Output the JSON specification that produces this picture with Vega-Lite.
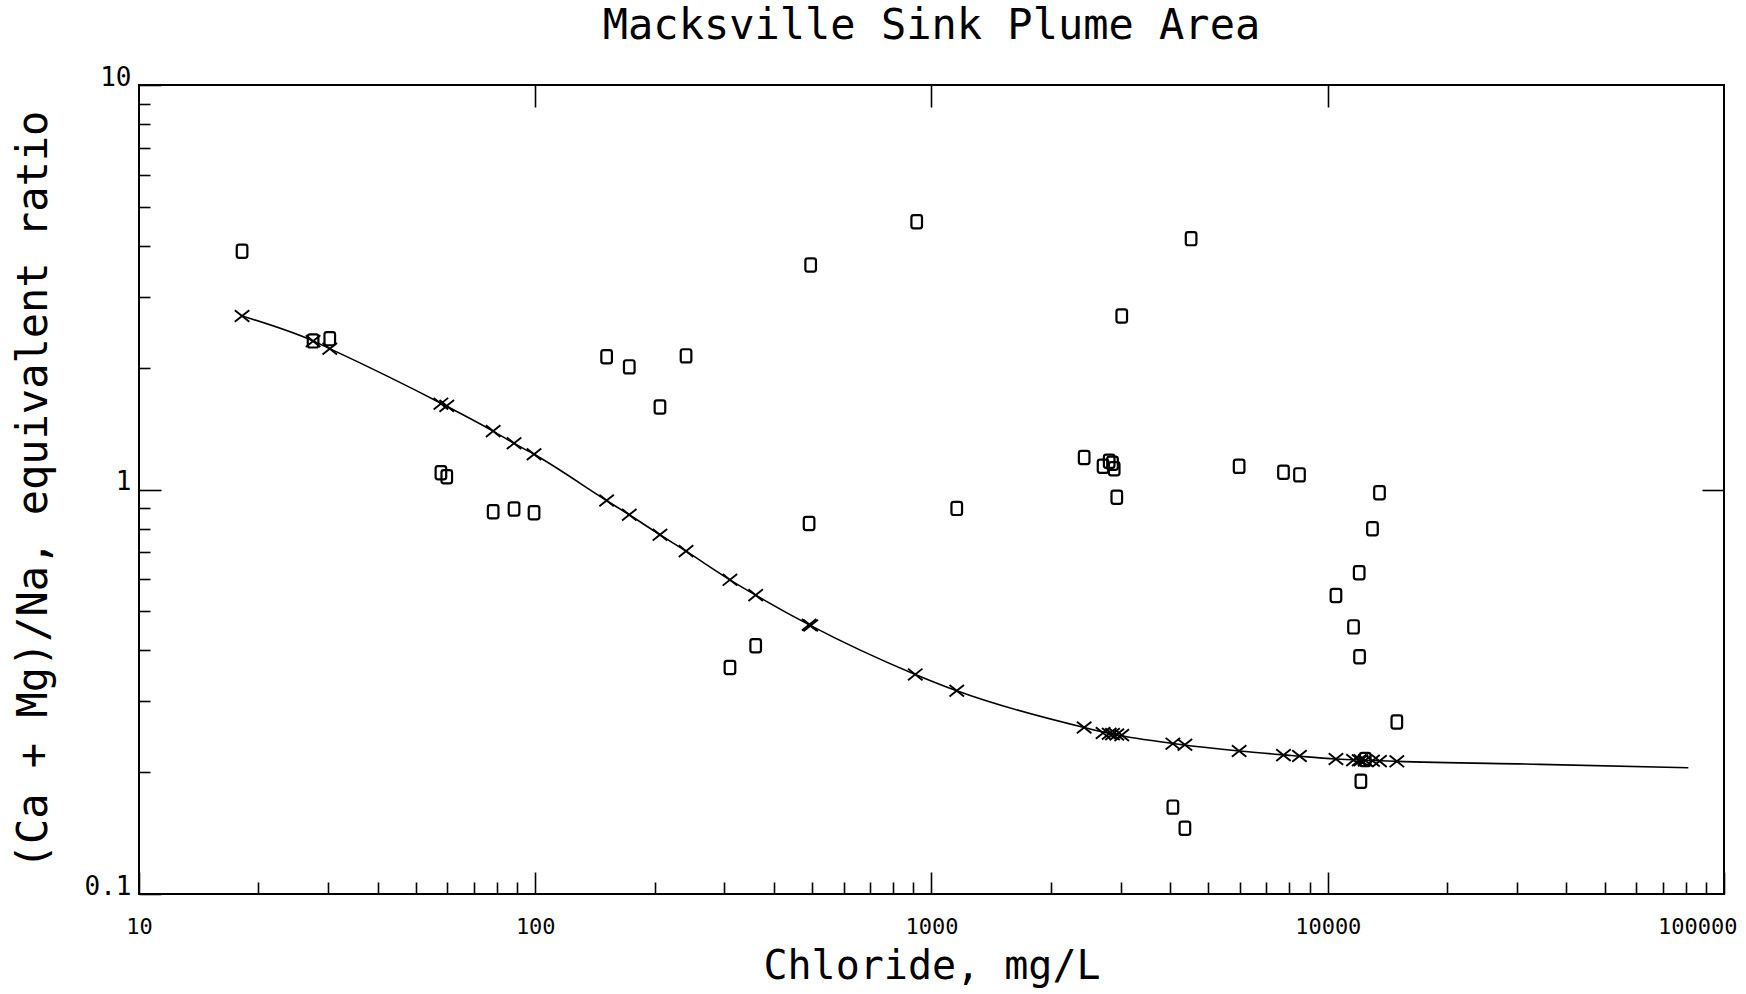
{
  "$schema": "https://vega.github.io/schema/vega-lite/v6.json",
  "width": 1585,
  "height": 809,
  "autosize": {"type": "none"},
  "padding": {"left": 139, "top": 85, "right": 22, "bottom": 100},
  "background": "white",
  "title": {"text": "Macksville Sink Plume Area", "anchor": "middle", "offset": 16, "font": "DejaVu Sans Mono", "fontSize": 42, "fontWeight": "normal", "color": "black"},
  "config": {
    "view": {"stroke": "black", "strokeWidth": 2},
    "axis": {"grid": false, "domain": false, "tickColor": "black", "tickWidth": 1.6, "labelColor": "black", "labelFont": "DejaVu Sans Mono", "labelFontSize": 22, "titleFont": "DejaVu Sans Mono", "titleFontSize": 42, "titleFontWeight": "normal", "titleColor": "black"}
  },
  "datasets": {
    "obs": [
      {"cl": 18.2, "ratio": 3.88}, {"cl": 27.5, "ratio": 2.33}, {"cl": 30.3, "ratio": 2.36},
      {"cl": 57.8, "ratio": 1.10}, {"cl": 59.8, "ratio": 1.075}, {"cl": 78.3, "ratio": 0.881},
      {"cl": 88.4, "ratio": 0.895}, {"cl": 99.3, "ratio": 0.876}, {"cl": 151.4, "ratio": 2.13},
      {"cl": 172.7, "ratio": 2.01}, {"cl": 206.4, "ratio": 1.60}, {"cl": 240.2, "ratio": 2.14},
      {"cl": 310, "ratio": 0.363}, {"cl": 360, "ratio": 0.411}, {"cl": 491, "ratio": 0.824},
      {"cl": 495.5, "ratio": 3.59}, {"cl": 917.6, "ratio": 4.59}, {"cl": 1158, "ratio": 0.898},
      {"cl": 2428, "ratio": 1.20}, {"cl": 2710, "ratio": 1.142}, {"cl": 2808, "ratio": 1.175},
      {"cl": 2863, "ratio": 1.161}, {"cl": 2891, "ratio": 1.125}, {"cl": 2935, "ratio": 0.957},
      {"cl": 3021, "ratio": 2.685}, {"cl": 4066, "ratio": 0.164}, {"cl": 4360, "ratio": 0.1454},
      {"cl": 4520, "ratio": 4.17}, {"cl": 5975, "ratio": 1.141}, {"cl": 7732, "ratio": 1.103},
      {"cl": 8485, "ratio": 1.087}, {"cl": 10488, "ratio": 0.547}, {"cl": 11616, "ratio": 0.4575},
      {"cl": 12005, "ratio": 0.6225}, {"cl": 12030, "ratio": 0.386}, {"cl": 12123, "ratio": 0.190},
      {"cl": 12432, "ratio": 0.215}, {"cl": 12968, "ratio": 0.800}, {"cl": 13507, "ratio": 0.982},
      {"cl": 14940, "ratio": 0.2663}
    ],
    "calc": [
      {"cl": 18.2, "ratio": 2.685}, {"cl": 27.5, "ratio": 2.327}, {"cl": 30.3, "ratio": 2.228},
      {"cl": 57.8, "ratio": 1.63}, {"cl": 59.8, "ratio": 1.61}, {"cl": 78.3, "ratio": 1.394},
      {"cl": 88.4, "ratio": 1.301}, {"cl": 99.3, "ratio": 1.222}, {"cl": 151.4, "ratio": 0.939},
      {"cl": 172.7, "ratio": 0.866}, {"cl": 206.4, "ratio": 0.773}, {"cl": 240.2, "ratio": 0.704},
      {"cl": 310, "ratio": 0.598}, {"cl": 360, "ratio": 0.548}, {"cl": 491, "ratio": 0.463},
      {"cl": 495.5, "ratio": 0.461}, {"cl": 910, "ratio": 0.349}, {"cl": 1158, "ratio": 0.318},
      {"cl": 2428, "ratio": 0.258}, {"cl": 2710, "ratio": 0.250}, {"cl": 2808, "ratio": 0.249},
      {"cl": 2863, "ratio": 0.2485}, {"cl": 2935, "ratio": 0.248}, {"cl": 3021, "ratio": 0.247},
      {"cl": 4066, "ratio": 0.2353}, {"cl": 4360, "ratio": 0.2339}, {"cl": 5975, "ratio": 0.2257},
      {"cl": 7732, "ratio": 0.2205}, {"cl": 8485, "ratio": 0.2193}, {"cl": 10488, "ratio": 0.2156},
      {"cl": 11616, "ratio": 0.2143}, {"cl": 12005, "ratio": 0.2142}, {"cl": 12123, "ratio": 0.2141},
      {"cl": 12432, "ratio": 0.214}, {"cl": 12968, "ratio": 0.2135}, {"cl": 13507, "ratio": 0.2131},
      {"cl": 14940, "ratio": 0.2128}
    ],
    "curve": [
      {"cl": 18.2, "ratio": 2.685}, {"cl": 27.5, "ratio": 2.33}, {"cl": 30.3, "ratio": 2.23},
      {"cl": 58.8, "ratio": 1.62}, {"cl": 78.3, "ratio": 1.394}, {"cl": 88.4, "ratio": 1.30},
      {"cl": 99.3, "ratio": 1.222}, {"cl": 151.4, "ratio": 0.939}, {"cl": 172.7, "ratio": 0.866},
      {"cl": 206.4, "ratio": 0.773}, {"cl": 240.2, "ratio": 0.704}, {"cl": 310, "ratio": 0.598},
      {"cl": 360, "ratio": 0.548}, {"cl": 493, "ratio": 0.462}, {"cl": 910, "ratio": 0.349},
      {"cl": 1158, "ratio": 0.318}, {"cl": 2428, "ratio": 0.258}, {"cl": 2860, "ratio": 0.2485},
      {"cl": 4200, "ratio": 0.2346}, {"cl": 5975, "ratio": 0.2257}, {"cl": 8100, "ratio": 0.220},
      {"cl": 10488, "ratio": 0.2156}, {"cl": 12400, "ratio": 0.2141}, {"cl": 14940, "ratio": 0.2128},
      {"cl": 34360, "ratio": 0.2092}, {"cl": 81283, "ratio": 0.2052}
    ]
  },
  "layer": [
    {
      "data": {"name": "curve"},
      "mark": {"type": "line", "color": "black", "strokeWidth": 1.6, "interpolate": "monotone"},
      "encoding": {
        "x": {"field": "cl", "type": "quantitative", "scale": {"type": "log", "domain": [10, 100000], "nice": false},
          "axis": {"orient": "bottom", "values": [10, 100, 1000, 10000, 100000], "format": "d", "tickSize": -22, "labelPadding": 44,
            "labelAlign": {"condition": {"test": "datum.value == 100000", "value": "right"}, "value": "center"},
            "labelOffset": {"condition": {"test": "datum.value == 100000", "value": 13}, "value": 0},
            "title": "Chloride, mg/L", "titleFontSize": 40, "titleBaseline": "middle", "titleY": 72}},
        "y": {"field": "ratio", "type": "quantitative", "scale": {"type": "log", "domain": [0.1, 10], "nice": false},
          "axis": {"orient": "left", "values": [0.1, 1, 10], "format": "~r", "tickSize": -22, "labelPadding": 30, "labelBaseline": "alphabetic", "labelFontSize": 26,
            "title": "(Ca + Mg)/Na, equivalent ratio", "titleBaseline": "middle", "titleX": -106}}
      }
    },
    {
      "data": {"name": "calc"},
      "mark": {"type": "point", "shape": "M-1,-0.8L1,0.8M-1,0.8L1,-0.8", "filled": false, "stroke": "black", "strokeWidth": 1.9, "size": 210, "opacity": 1},
      "encoding": {
        "x": {"field": "cl", "type": "quantitative", "scale": {"type": "log", "domain": [10, 100000], "nice": false},
          "axis": {"orient": "bottom", "values": [20, 30, 40, 50, 60, 70, 80, 90, 200, 300, 400, 500, 600, 700, 800, 900, 2000, 3000, 4000, 5000, 6000, 7000, 8000, 9000, 20000, 30000, 40000, 50000, 60000, 70000, 80000, 90000], "tickSize": -12, "labels": false, "title": null}},
        "y": {"field": "ratio", "type": "quantitative", "scale": {"type": "log", "domain": [0.1, 10], "nice": false},
          "axis": {"orient": "left", "values": [0.2, 0.3, 0.4, 0.5, 0.6, 0.7, 0.8, 0.9, 2, 3, 4, 5, 6, 7, 8, 9], "tickSize": -11, "labels": false, "title": null}}
      }
    },
    {
      "data": {"name": "obs"},
      "mark": {"type": "point", "shape": "M-0.45,-1L0.45,-1Q0.8,-1 0.8,-0.65L0.8,0.65Q0.8,1 0.45,1L-0.45,1Q-0.8,1 -0.8,0.65L-0.8,-0.65Q-0.8,-1 -0.45,-1Z", "filled": false, "stroke": "black", "strokeWidth": 2.2, "size": 175, "opacity": 1},
      "encoding": {
        "x": {"field": "cl", "type": "quantitative", "scale": {"type": "log", "domain": [10, 100000], "nice": false},
          "axis": {"orient": "top", "values": [100, 1000, 10000], "tickSize": -22, "labels": false, "title": null}},
        "y": {"field": "ratio", "type": "quantitative", "scale": {"type": "log", "domain": [0.1, 10], "nice": false},
          "axis": {"orient": "right", "values": [1], "tickSize": -22, "labels": false, "title": null}}
      }
    }
  ],
  "resolve": {"axis": {"x": "independent", "y": "independent"}}
}
